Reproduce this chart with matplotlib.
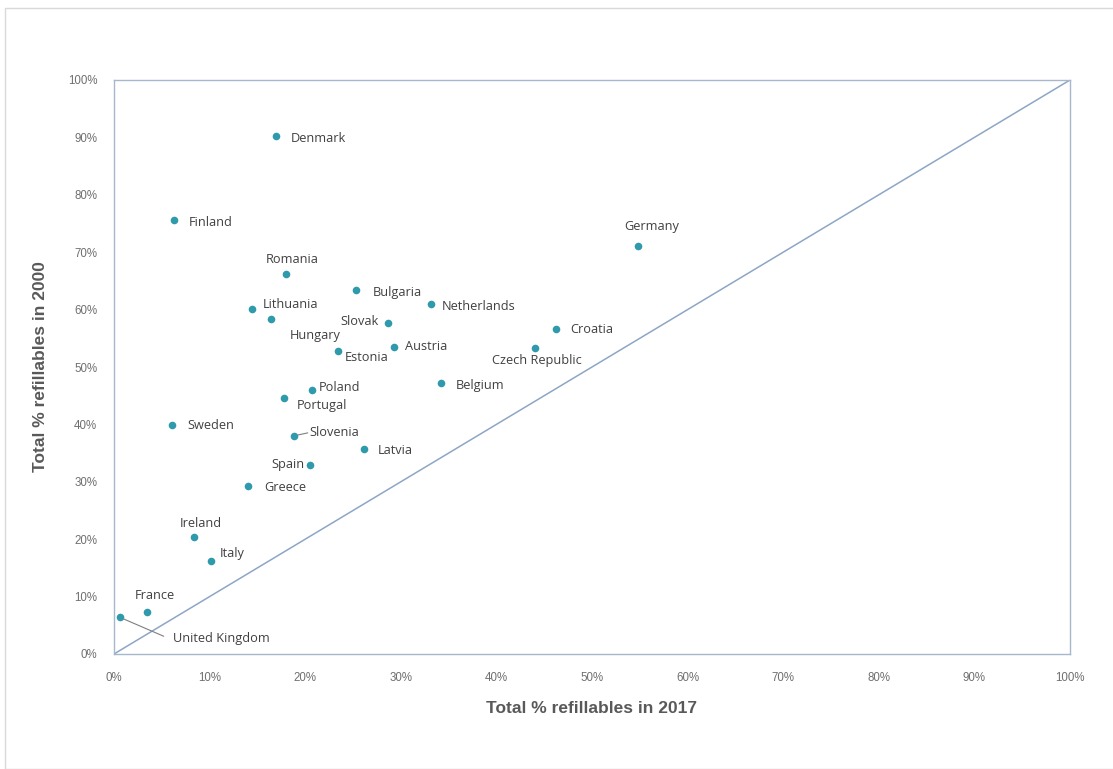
import matplotlib
matplotlib.use("Agg")
import matplotlib.pyplot as plt
from matplotlib.patches import Rectangle
from matplotlib.ticker import FuncFormatter, MultipleLocator

countries = ["Denmark", "Finland", "Germany", "Romania", "Bulgaria", "Netherlands",
             "Lithuania", "Hungary", "Slovak", "Croatia", "Austria", "Estonia",
             "Czech Republic", "Belgium", "Poland", "Portugal", "Sweden", "Slovenia",
             "Latvia", "Spain", "Greece", "Ireland", "Italy", "France", "United Kingdom"]
refill_2017 = [16.9, 6.3, 54.8, 18.0, 25.3, 33.2, 14.4, 16.4, 28.7, 46.2, 29.3, 23.4,
               44.0, 34.2, 20.7, 17.8, 6.1, 18.8, 26.2, 20.5, 14.0, 8.4, 10.1, 3.5, 0.6]
refill_2000 = [90.2, 75.6, 71.1, 66.2, 63.4, 61.0, 60.1, 58.4, 57.7, 56.6, 53.5, 52.8,
               53.3, 47.2, 46.0, 44.6, 39.9, 38.0, 35.7, 32.9, 29.3, 20.4, 16.2, 7.3, 6.4]

# label placement (offset in pixels from the point, horizontal alignment, leader line)
label_layout = {
    "Denmark": (15, -2, "left", False),
    "Finland": (15, -2, "left", False),
    "Germany": (-14, 19, "left", False),
    "Romania": (-20, 15, "left", False),
    "Bulgaria": (17, -2, "left", False),
    "Netherlands": (10, -3, "left", False),
    "Lithuania": (11, 5, "left", False),
    "Hungary": (70, -17, "right", False),
    "Slovak": (-10, 1, "right", False),
    "Croatia": (15, 0, "left", False),
    "Austria": (11, 0, "left", False),
    "Estonia": (7, -7, "left", False),
    "Czech Republic": (-43, -12, "left", False),
    "Belgium": (15, -2, "left", False),
    "Poland": (7, 2, "left", False),
    "Portugal": (13, -8, "left", False),
    "Sweden": (15, -1, "left", False),
    "Slovenia": (16, 3, "left", True),
    "Latvia": (13, -1, "left", False),
    "Spain": (-5, 1, "right", False),
    "Greece": (16, -2, "left", False),
    "Ireland": (-15, 13, "left", False),
    "Italy": (9, 8, "left", False),
    "France": (-13, 17, "left", False),
    "United Kingdom": (53, -21, "left", True),
}

W, H = 1113, 769
fig = plt.figure(figsize=(W / 100, H / 100), dpi=100)
fig.patches.append(Rectangle((5 / W, 0), 1.2, 1 - 8 / H, transform=fig.transFigure,
                             fill=False, edgecolor="#d9d9d9", linewidth=1.0))

ax = fig.add_axes([114 / W, 1 - 654 / H, (1070 - 114) / W, (654 - 80) / H])
ax.set_xlim(0, 100)
ax.set_ylim(0, 100)

marker_color = "#2f9aab"
ax.plot([0, 100], [0, 100], color="#8da6c6", linewidth=1.1, zorder=1)
ax.scatter(refill_2017, refill_2000, s=30, color=marker_color, zorder=3, linewidths=0)

label_font = dict(family=["Open Sans", "DejaVu Sans"], fontsize=9.2, color="#404040")
for name, x, y in zip(countries, refill_2017, refill_2000):
    dx, dy, ha, leader = label_layout[name]
    ax.annotate(name, (x, y), xytext=(dx, dy), textcoords="offset pixels",
                ha=ha, va="center", **label_font, zorder=4)

# leader lines
ax.annotate("", (18.8, 38.0), xytext=(14, 3), textcoords="offset pixels",
            arrowprops=dict(arrowstyle="-", color="#7f7f7f", lw=0.8, shrinkA=0, shrinkB=3))
ax.annotate("", (0.6, 6.4), xytext=(44, -19), textcoords="offset pixels",
            arrowprops=dict(arrowstyle="-", color="#7f7f7f", lw=0.8, shrinkA=0, shrinkB=3))

pct = FuncFormatter(lambda v, p: f"{int(round(v))}%")
ax.xaxis.set_major_locator(MultipleLocator(10))
ax.yaxis.set_major_locator(MultipleLocator(10))
ax.xaxis.set_major_formatter(pct)
ax.yaxis.set_major_formatter(pct)
ax.tick_params(length=0, labelsize=8.3, labelcolor="#6f6f6f", pad=13)
ax.tick_params(axis="y", pad=12)
for t in ax.get_xticklabels() + ax.get_yticklabels():
    t.set_fontfamily(["Liberation Sans", "DejaVu Sans"])

for s in ax.spines.values():
    s.set_color("#a8b8cc")
    s.set_linewidth(1.0)

title_font = dict(family=["Liberation Sans", "DejaVu Sans"], fontsize=12.5,
                  fontweight="bold", color="#595959")
ax.set_xlabel("Total % refillables in 2017", labelpad=12, **title_font)
ax.set_ylabel("Total % refillables in 2000", labelpad=14, **title_font)

fig.savefig("out.png", dpi=100, facecolor="white")
